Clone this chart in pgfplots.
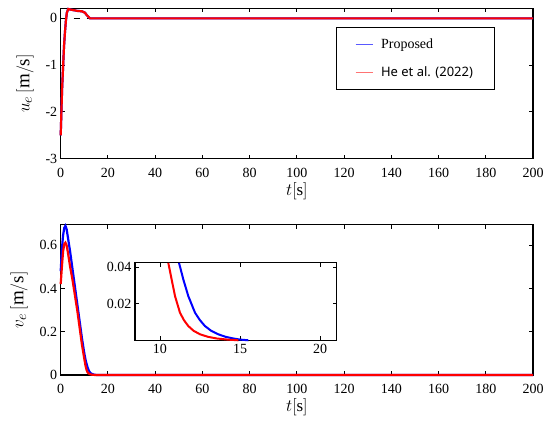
\documentclass[border=0pt]{standalone}
\usepackage{pgfplots}
\pgfplotsset{compat=1.18}
\usepackage{fontspec}
\setmainfont{Liberation Serif}
\newfontfamily\legsans{Noto Sans}
\pgfplotsset{
  mystyle/.style={
    scale only axis,
    axis line style={black, line width=1.1pt},
    tick style={black, line width=0.9pt},
    major tick length=4pt,
    tick align=inside,
    tick label style={font=\fontsize{14}{16}\selectfont},
    /pgf/number format/assume math mode=true,
    label style={font=\fontsize{19}{21}\selectfont},
    clip=false,
  }
}
\begin{document}
\begin{tikzpicture}[x=1pt,y=1pt]
\useasboundingbox (0,0) rectangle (550,431);
% ---------------- top axis ----------------
\begin{axis}[mystyle,
  at={(60.7pt,272.3pt)}, anchor=south west,
  width=472.3pt, height=150.4pt,
  xmin=0, xmax=200, ymin=-3, ymax=0.215,
  xtick={0,20,...,200},
  xticklabels={0,20,40,60,80,100,120,140,160,180,200},
  xticklabel style={yshift=-6pt},
  ytick={-3,-2,-1,0}, yticklabels={-3,-2,-1,0},
  xlabel={$t[\mathrm{s}]$},
  ylabel={$u_e\,[\mathrm{m/s}]$},
  xlabel style={yshift=2pt, font=\fontsize{17}{19}\selectfont},
  ylabel style={yshift=5pt},
  legend style={at={(0.583,0.878)}, anchor=north west, draw=black, line width=0.7pt,
    fill=white, nodes={inner sep=2pt}, column sep=6pt, row sep=12pt,
    inner xsep=19pt, inner ysep=10pt, legend cell align=left},
]
\addplot[black, line width=1.5pt, dash pattern=on 6pt off 7pt, forget plot] coordinates {(0,0) (200,0)};
\addplot[blue, line width=2.2pt, forget plot] coordinates {
(0,-2.5) (0.3,-2.0) (0.6,-1.5) (1.0,-1.05) (1.4,-0.6) (1.8,-0.3) (2.2,-0.05) (2.6,0.12) (3.2,0.2) (4,0.19) (5,0.18) (7,0.16) (9,0.15) (10.3,0.12) (11,0.07) (12.4,0) (200,0)};
\addplot[red, line width=2.2pt, forget plot] coordinates {
(0,-2.5) (0.3,-2.0) (0.6,-1.5) (1.0,-1.05) (1.4,-0.6) (1.8,-0.3) (2.2,-0.05) (2.6,0.12) (3.2,0.2) (4,0.19) (5,0.18) (7,0.16) (9,0.15) (10.3,0.12) (11,0.07) (12.4,0) (200,0)};
\addlegendimage{color=blue!65, line width=0.6pt}
\addlegendentry{\fontsize{14}{16}\selectfont Proposed}
\addlegendimage{color=red!55, line width=0.6pt}
\addlegendentry{\legsans\fontsize{13}{15}\selectfont He et al. (2022)}
\end{axis}
% ---------------- bottom axis ----------------
\begin{axis}[mystyle,
  at={(60.7pt,56pt)}, anchor=south west,
  width=472.3pt, height=150.3pt,
  xmin=0, xmax=200, ymin=0, ymax=0.695,
  xtick={0,20,...,200},
  xticklabels={0,20,40,60,80,100,120,140,160,180,200},
  xticklabel style={yshift=-6pt},
  ytick={0,0.2,0.4,0.6}, yticklabels={0,0.2,0.4,0.6},
  xlabel={$t[\mathrm{s}]$},
  ylabel={$v_e\,[\mathrm{m/s}]$},
  xlabel style={yshift=2pt, font=\fontsize{17}{19}\selectfont},
  ylabel style={yshift=5pt},
]
\addplot[black, line width=1.5pt, dash pattern=on 6pt off 7pt] coordinates {(0,0) (200,0)};
\addplot[blue, line width=2.2pt] coordinates {
(0,0.48) (0.5,0.58) (1,0.645) (1.5,0.68) (2,0.69) (2.5,0.675) (3,0.64) (4,0.57) (5,0.49) (6,0.41) (7,0.33) (8,0.25) (9,0.17) (10,0.10) (10.6,0.066) (11.19,0.0424) (11.46,0.0333) (11.77,0.0242) (12.19,0.0151) (12.5,0.0110) (12.81,0.0078) (13.2,0.0052) (13.64,0.0033) (14.1,0.0019) (14.58,0.0010) (15.0,0.0004) (15.52,0) (200,0)};
\addplot[red, line width=2.2pt] coordinates {
(0,0.42) (0.5,0.50) (1,0.57) (1.5,0.605) (2,0.612) (2.5,0.60) (3,0.57) (4,0.50) (5,0.44) (6,0.37) (7,0.30) (8,0.22) (9,0.14) (10,0.075) (10.52,0.0424) (10.73,0.0333) (10.94,0.0242) (11.25,0.0151) (11.5,0.0110) (11.77,0.0078) (12.1,0.0052) (12.5,0.0033) (13.0,0.0019) (13.54,0.001) (14.2,0.0004) (14.9,0) (200,0)};
\end{axis}
% ---------------- inset ----------------
\begin{axis}[mystyle,
  at={(135pt,90.7pt)}, anchor=south west,
  width=201.7pt, height=77.6pt,
  axis background/.style={fill=white},
  xmin=8.44, xmax=21.04, ymin=0, ymax=0.0425,
  xtick={10,15,20}, xticklabels={10,15,20},
  ytick={0.02,0.04}, yticklabels={0.02,0.04},
  scaled y ticks=false, scaled x ticks=false,
]
\addplot[blue, line width=2pt] coordinates {
(11.19,0.0424) (11.46,0.0333) (11.77,0.0242) (12.19,0.0151) (12.5,0.0110) (12.81,0.0078) (13.2,0.0052) (13.64,0.0033) (14.1,0.0019) (14.58,0.0010) (15.0,0.0004) (15.52,0)};
\addplot[red, line width=2pt] coordinates {
(10.52,0.0424) (10.73,0.0333) (10.94,0.0242) (11.25,0.0151) (11.5,0.0110) (11.77,0.0078) (12.1,0.0052) (12.5,0.0033) (13.0,0.0019) (13.54,0.001) (14.2,0.0004) (14.9,0)};
\end{axis}
\end{tikzpicture}
\end{document}
